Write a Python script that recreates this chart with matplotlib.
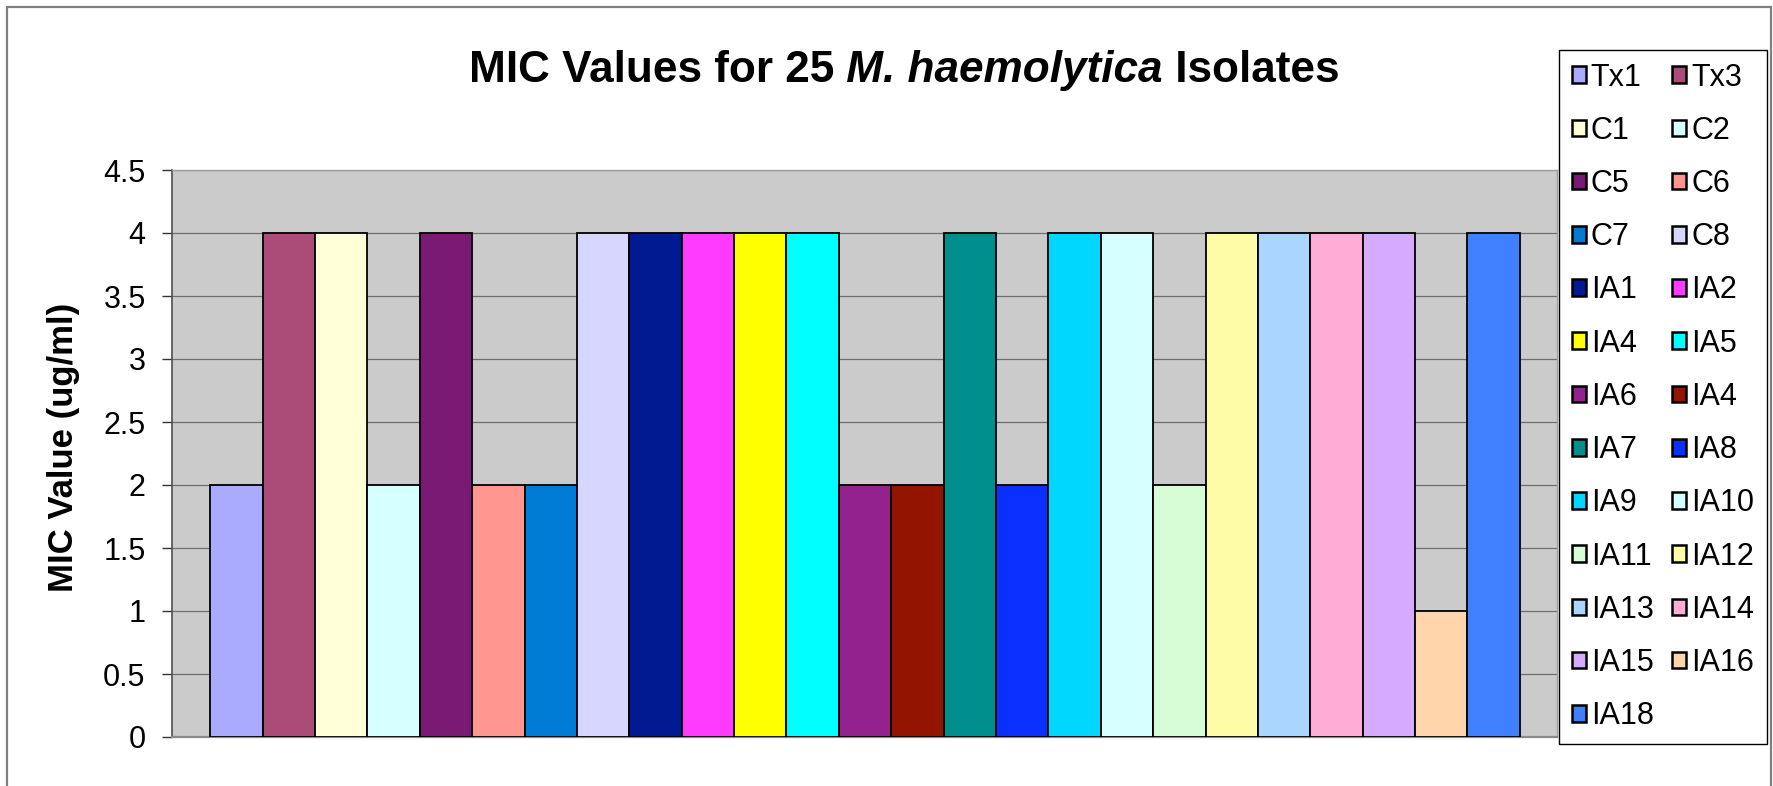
import matplotlib
matplotlib.use("Agg")
import matplotlib.pyplot as plt
from matplotlib.patches import Patch, Rectangle
import numpy as np

# ---- data ----
isolates = ["Tx1", "Tx3", "C1", "C2", "C5", "C6", "C7", "C8", "IA1", "IA2",
            "IA4", "IA5", "IA6", "IA4", "IA7", "IA8", "IA9", "IA10", "IA11",
            "IA12", "IA13", "IA14", "IA15", "IA16", "IA18"]
mic_values = [2, 4, 4, 2, 4, 2, 2, 4, 4, 4,
              4, 4, 2, 2, 4, 2, 4, 4, 2,
              4, 4, 4, 4, 1, 4]
bar_colors = ["#AAAAFF", "#AA4C77", "#FFFFD8", "#D6FFFF", "#7A1A74", "#FF9690",
              "#007CD7", "#D6D6FF", "#001A91", "#FF3BFF", "#FFFF00", "#00FFFF",
              "#93228F", "#931500", "#008F8C", "#0B2FFF", "#00D7FF", "#D6FFFF",
              "#D6FDD6", "#FFFCA8", "#A9D5FF", "#FFACD6", "#D6ABFF", "#FFD6AB",
              "#4080FF"]
y_ticks = [0, 0.5, 1, 1.5, 2, 2.5, 3, 3.5, 4, 4.5]
y_tick_labels = ["0", "0.5", "1", "1.5", "2", "2.5", "3", "3.5", "4", "4.5"]

title_parts = ["MIC Values for 25", " M. haemolytica", " Isolates"]
y_label = "MIC Value (ug/ml)"

plt.rcParams['font.family'] = ['Liberation Sans', 'DejaVu Sans']

W, H = 1773, 786
fig = plt.figure(figsize=(W / 100, H / 100), dpi=100)
fig.patch.set_facecolor("white")

# outer chart border
fig.patches.append(Rectangle((7 / W, -0.05), (1771 - 7) / W, 1 - 7 / H + 0.05,
                             transform=fig.transFigure, fill=False,
                             edgecolor="#808080", linewidth=1.6, zorder=0))

ax = fig.add_axes([172 / W, 1 - 737 / H, (1557 - 172) / W, (737 - 170) / H])
ax.set_facecolor("#CBCBCB")

x = np.arange(len(mic_values))
ax.bar(x, mic_values, width=1.0, color=bar_colors, edgecolor="black",
       linewidth=1.3, zorder=3)

ax.set_xlim(-0.5 - 0.73, len(mic_values) - 0.5 + 0.71)
ax.set_ylim(0, 4.5)
ax.set_yticks(y_ticks)
ax.set_yticklabels(y_tick_labels)
ax.set_xticks([])
ax.tick_params(axis="y", direction="out", length=7, width=1, color="#333333",
               labelsize=22, pad=12)
ax.yaxis.grid(True, color="#6E6E6E", linewidth=0.9)
ax.set_axisbelow(True)
for side in ["top", "right"]:
    ax.spines[side].set_color("#A0A0A0")
    ax.spines[side].set_linewidth(1)
ax.spines["left"].set_color("#505050")
ax.spines["left"].set_linewidth(1.2)
ax.spines["bottom"].set_color("#8A8A8A")
ax.spines["bottom"].set_linewidth(1.6)

ax.set_ylabel(y_label, fontsize=25, fontweight="bold", va="center")
ax.yaxis.set_label_coords((63 - 172) / (1557 - 172), 0.51)

# title in three styled parts
TY = 1 - 82 / H
t1 = fig.text(469 / W, TY, title_parts[0], fontsize=31.8,
              fontweight="bold", ha="left", va="baseline")
t2 = fig.text(0, 0, title_parts[1], fontsize=31.8, fontweight="bold",
              fontstyle="italic", ha="left", va="baseline")
t3 = fig.text(0, 0, title_parts[2], fontsize=31.8, fontweight="bold",
              ha="left", va="baseline")
fig.canvas.draw()
r = fig.canvas.get_renderer()
b1 = t1.get_window_extent(r)
t2.set_position((b1.x1 / W, TY))
b2 = t2.get_window_extent(r)
t3.set_position((b2.x1 / W, TY))

# legend, row-wise ordering across 2 columns
handles = [Patch(facecolor=c, edgecolor="black", linewidth=1.8) for c in bar_colors]
order = list(range(0, len(isolates), 2)) + list(range(1, len(isolates), 2))
leg = fig.legend([handles[i] for i in order], [isolates[i] for i in order],
                 ncol=2, loc="upper left",
                 bbox_to_anchor=(1559 / W, 1 - 50 / H),
                 bbox_transform=fig.transFigure, borderaxespad=0,
                 fontsize=22, frameon=True, fancybox=False, shadow=False,
                 handlelength=0.46, handleheight=0.46, handletextpad=0.17,
                 columnspacing=0.6, labelspacing=0.76, borderpad=0.41)
leg.get_frame().set_edgecolor("black")
leg.get_frame().set_linewidth(1.0)
leg.get_frame().set_facecolor("white")
leg.get_frame().set_alpha(1)

fig.savefig("out.png", dpi=100, facecolor="white")
